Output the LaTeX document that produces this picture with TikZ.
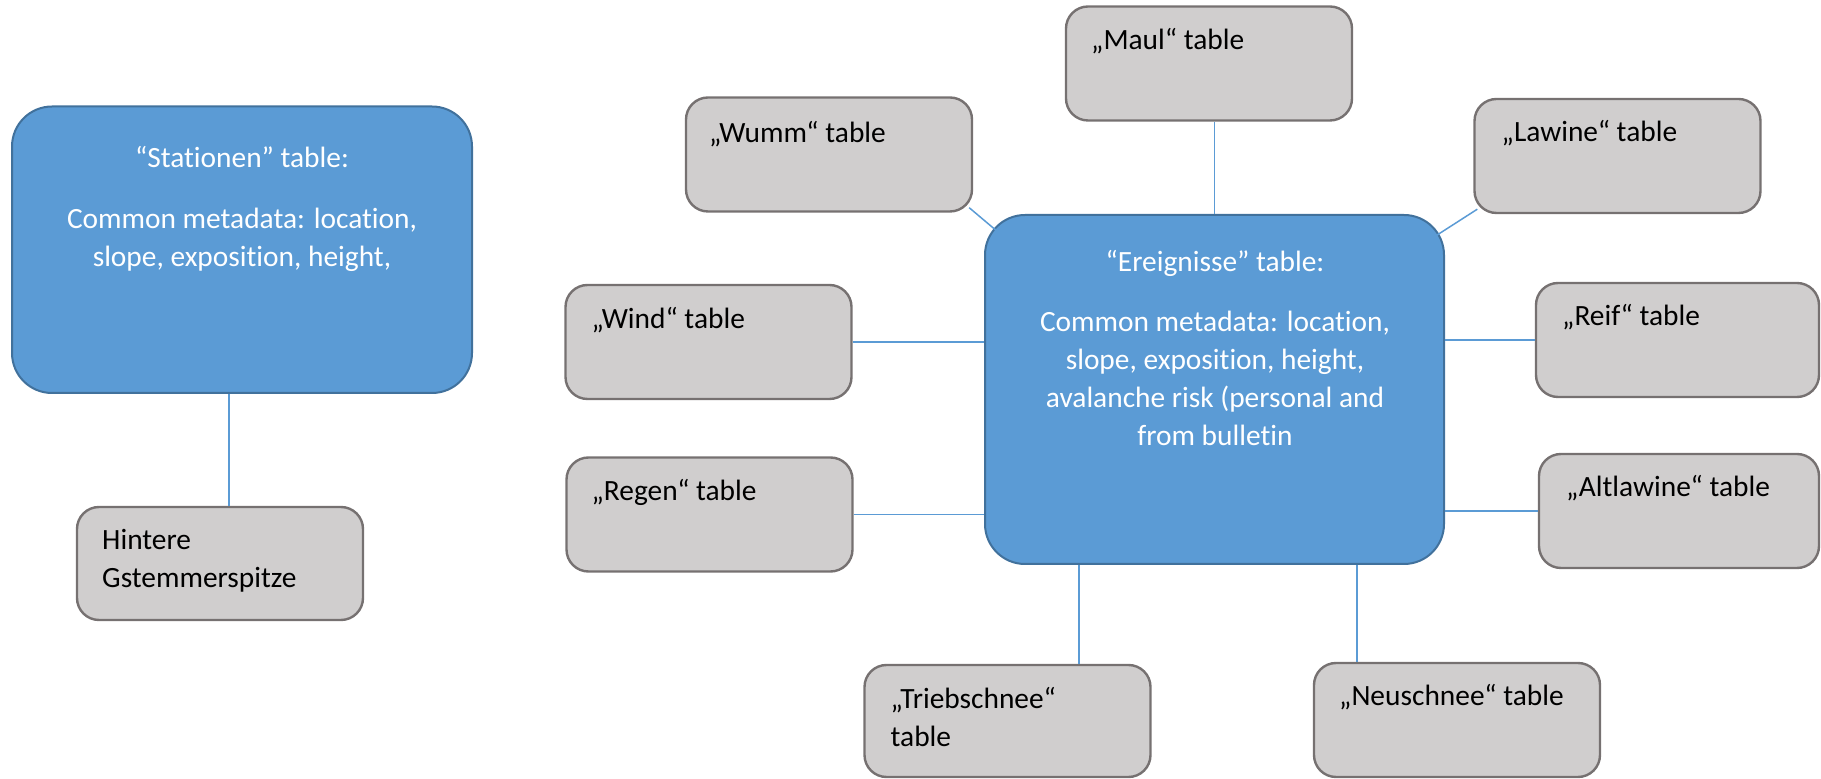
\documentclass[tikz,border=0pt]{standalone}
\usepackage{fontspec}
\setmainfont{Carlito}[Ligatures=NoCommon]
\usepackage{tikz}
\usetikzlibrary{positioning}
\definecolor{evblue}{HTML}{5B9BD5}
\definecolor{evedge}{HTML}{41719C}
\definecolor{tblgrey}{HTML}{D0CECE}
\definecolor{tbledge}{HTML}{767171}

\begin{document}
\begin{tikzpicture}[x=0.5pt,y=-0.5pt,
  main/.style={draw=evedge,fill=evblue,line width=1pt,rounded corners=20pt,inner sep=0pt},
  tbl/.style={draw=tbledge,fill=tblgrey,line width=1.2pt,rounded corners=11pt,
              inner sep=0pt,minimum width=143pt,minimum height=57pt},
  head/.style={text=white,align=center,anchor=base,inner sep=0pt,
               font=\fontsize{14.7}{19}\selectfont},
  lbl/.style={anchor=base west,align=left,inner sep=0pt,
              font=\fontsize{14.7}{19}\selectfont},
  link/.style={draw=evblue,line width=0.75pt}]
\useasboundingbox (0,0) rectangle (1821,779);

% stations side (base anchor sits on the last line)
\node[main,minimum width=230pt,minimum height=143.25pt] (stat) at (242,249.75) {};
\node[head] (stat-t) at (242,167.5) {“Stationen” table:};
\node[head] (stat-b) at (242,267) {Common metadata: location,\\slope, exposition, height,};
\node[tbl,minimum height=56.5pt] (hint) at (220,563.5) {};
\node[lbl] (hint-t) at ([shift={(26,82)}]hint.north west) {Hintere\\Gstemmerspitze};

% events table in the middle
\node[main,minimum width=229.5pt,minimum height=174.5pt] (ev) at (1214.5,389.5) {};
\node[head] (ev-t) at (1215,272) {“Ereignisse” table:};
\node[head] (ev-b) at (1215,446) {Common metadata: location,\\slope, exposition, height,\\
  avalanche risk (personal and\\from bulletin};

% one table per event type
\node[tbl] (maul) at (1209,63.5) {};
\node[tbl] (wumm) at (829,154.5) {};
\node[tbl] (lawine) at (1617.5,156) {};
\node[tbl,minimum width=141.5pt] (reif) at (1677.5,340) {};
\node[tbl,minimum width=140pt] (alt) at (1679,511) {};
\node[tbl] (wind) at (708.5,342) {};
\node[tbl] (regen) at (709.5,514.5) {};
\node[tbl,minimum height=56pt] (trieb) at (1007.5,721) {};
\node[tbl] (neu) at (1457,720) {};

\node[lbl] (maul-t) at ([shift={(26,44)}]maul.north west) {„Maul“ table};
\node[lbl] (wumm-t) at ([shift={(24,46)}]wumm.north west) {„Wumm“ table};
\node[lbl] (lawine-t) at ([shift={(28,44)}]lawine.north west) {„Lawine“ table};
\node[lbl] (reif-t) at ([shift={(27,44)}]reif.north west) {„Reif“ table};
\node[lbl] (alt-t) at ([shift={(28,44)}]alt.north west) {„Altlawine“ table};
\node[lbl] (wind-t) at ([shift={(27,45)}]wind.north west) {„Wind“ table};
\node[lbl] (regen-t) at ([shift={(26,44)}]regen.north west) {„Regen“ table};
\node[lbl] (trieb-t) at ([shift={(27,83)}]trieb.north west) {„Triebschnee“\\table};
\node[lbl] (neu-t) at ([shift={(26,44)}]neu.north west) {„Neuschnee“ table};

% connectors
\draw[link] ([xshift=4.5pt]hint.north) -- ([xshift=4.5pt]hint.north |- stat.south);
\draw[link] (maul.south -| ev.north) -- (ev.north);
\draw[link] ([shift={(-4,-5)}]wumm.south east) -- ([shift={(14,18)}]ev.north west);
\draw[link] ([shift={(4,-5)}]lawine.south west) -- ([shift={(-11,23)}]ev.north east);
\draw[link] (wind.east) -- (wind.east -| ev.west);
\draw[link] (regen.east) -- (regen.east -| ev.west);
\draw[link] (reif.west -| ev.east) -- (reif.west);
\draw[link] (alt.west -| ev.east) -- (alt.west);
\draw[link] ([xshift=35.75pt]trieb.north) -- ([xshift=35.75pt]trieb.north |- ev.south);
\draw[link] ([xshift=-50pt]neu.north) -- ([xshift=-50pt]neu.north |- ev.south);
\end{tikzpicture}
\end{document}
